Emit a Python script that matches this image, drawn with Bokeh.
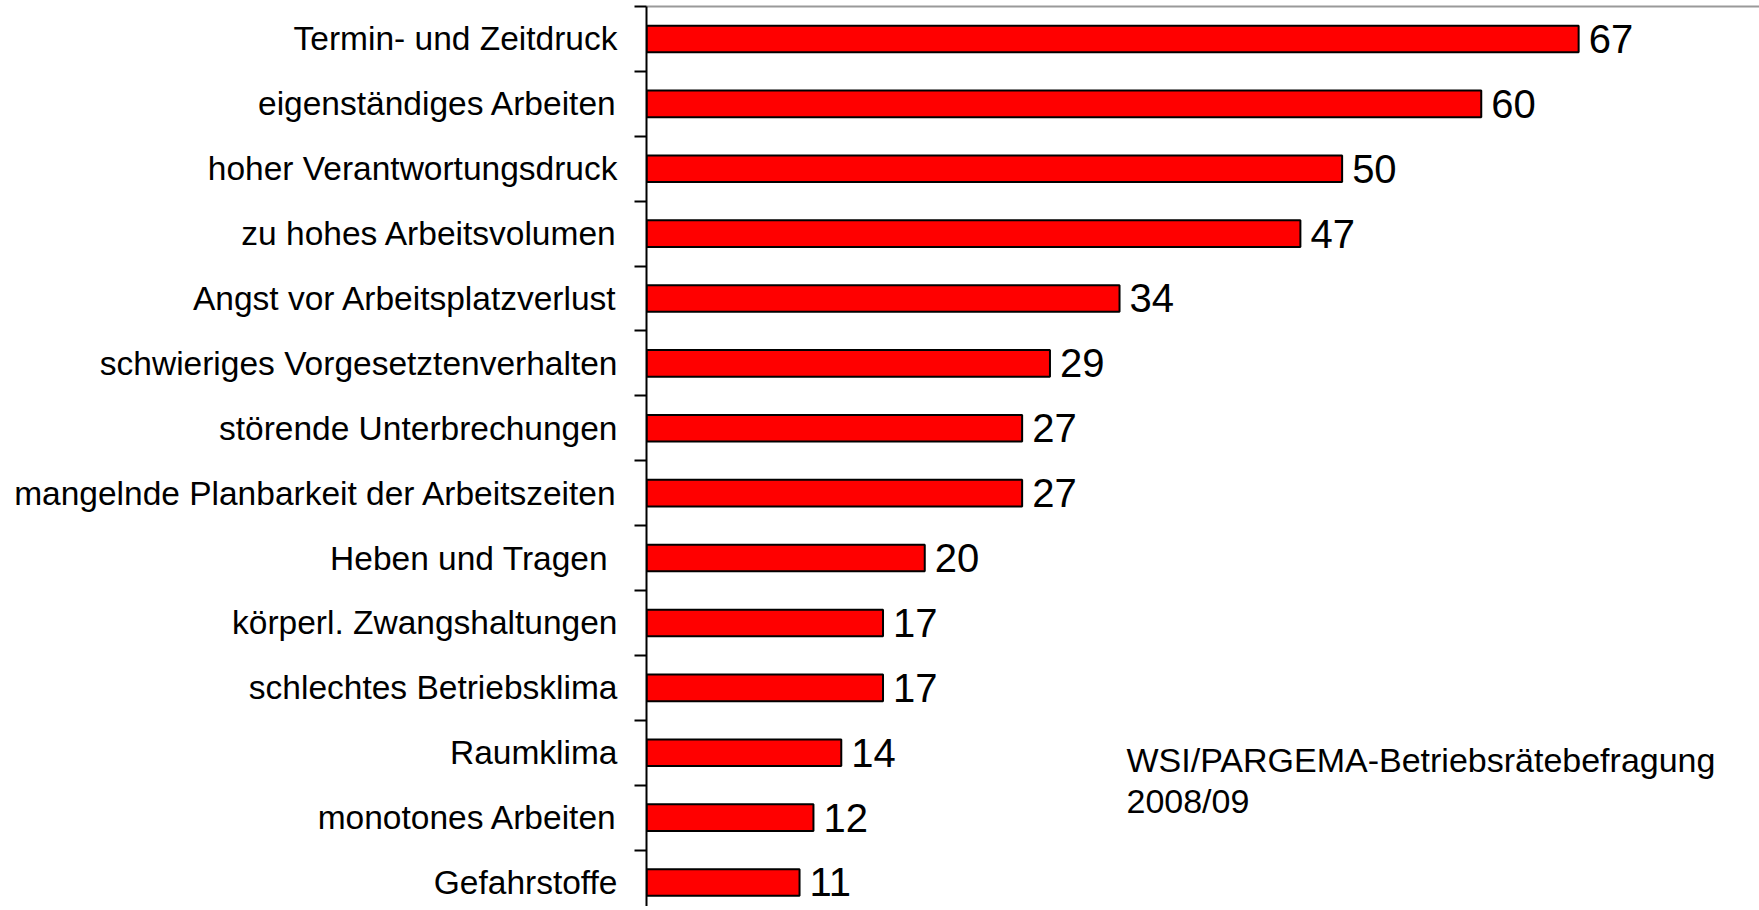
from bokeh.plotting import figure
from bokeh.models import (ColumnDataSource, Range1d, FixedTicker, Label)
from bokeh.embed import file_html
from bokeh.resources import INLINE

categories = [
    "Termin- und Zeitdruck",
    "eigenständiges Arbeiten",
    "hoher Verantwortungsdruck",
    "zu hohes Arbeitsvolumen",
    "Angst vor Arbeitsplatzverlust",
    "schwieriges Vorgesetztenverhalten",
    "störende Unterbrechungen",
    "mangelnde Planbarkeit der Arbeitszeiten",
    "Heben und Tragen ",
    "körperl. Zwangshaltungen",
    "schlechtes Betriebsklima",
    "Raumklima",
    "monotones Arbeiten",
    "Gefahrstoffe",
]
values = [67, 60, 50, 47, 34, 29, 27, 27, 20, 17, 17, 14, 12, 11]
source_lines = ["WSI/PARGEMA-Betriebsrätebefragung", "2008/09"]

FONT = "Liberation Sans"
n = len(categories)
ypos = [n - i for i in range(n)]  # top category at highest position

src = ColumnDataSource(dict(y=ypos, v=values, cat=categories,
                            lbl=[str(v) for v in values]))

p = figure(width=1759, height=906, output_backend="svg", toolbar_location=None,
           x_range=Range1d(0, 80), y_range=Range1d(0.63, n + 0.5),
           x_axis_location="above", min_border_left=646, min_border_top=6,
           min_border_right=0, min_border_bottom=0)
p.outline_line_color = None
p.xgrid.visible = False
p.ygrid.visible = False
p.background_fill_color = "white"
p.border_fill_color = "white"

p.hbar(y="y", right="v", left=0, height=0.41, source=src,
       fill_color="#FF0000", line_color="black", line_width=2)

p.text(x="v", y="y", text="lbl", source=src, x_offset=10,
       text_align="left", text_baseline="middle",
       text_font_size="40px", text_font={"value": FONT}, text_color="black")

# top axis: plain gray line
xa = p.xaxis[0]
xa.ticker = FixedTicker(ticks=[])
xa.axis_line_color = "#9A9A9A"
xa.axis_line_width = 2
xa.major_tick_line_color = None
xa.minor_tick_line_color = None
xa.major_tick_out = 0
xa.major_tick_in = 0
xa.minor_tick_out = 0
xa.minor_tick_in = 0
xa.major_label_standoff = 0
xa.major_label_text_font_size = "0px"

# left axis: labels at centers, ticks at boundaries
ya = p.yaxis[0]
ya.ticker = FixedTicker(ticks=ypos, minor_ticks=[k + 0.5 for k in range(n + 1)])
ya.major_label_overrides = {y: c for y, c in zip(ypos, categories)}
ya.major_tick_line_color = None
ya.major_tick_out = 0
ya.major_tick_in = 0
ya.minor_tick_line_color = "black"
ya.minor_tick_line_width = 2
ya.minor_tick_out = 12
ya.minor_tick_in = 0
ya.axis_line_color = "black"
ya.axis_line_width = 2
ya.major_label_standoff = 17
ya.major_label_text_font = FONT
ya.major_label_text_font_size = "33.5px"
ya.major_label_text_color = "black"

source_y = [2.89, 2.25]
for line, yy in zip(source_lines, source_y):
    p.add_layout(Label(x=34.5, y=yy, text=line, text_font=FONT,
                       text_font_size="34px", text_align="left",
                       text_baseline="middle", text_color="black"))

open("out.html", "w").write(file_html(p, INLINE))
